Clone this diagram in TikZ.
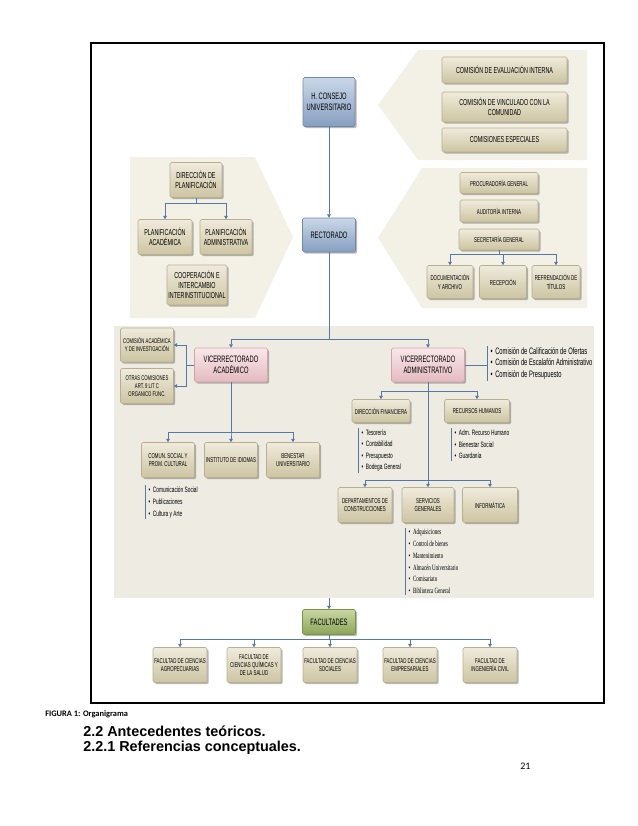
\documentclass[tikz,border=0pt]{standalone}
\usepackage{fontspec}
\usetikzlibrary{arrows.meta,shadows}
\newfontfamily\orgfont[FakeStretch=0.62]{Liberation Sans}
\newfontfamily\orgserif[FakeStretch=0.62]{Liberation Serif}
\newfontfamily\capfont{Carlito}
\newfontfamily\headfont{Liberation Sans}
\definecolor{tanTop}{HTML}{EFEBDC}
\definecolor{tanBot}{HTML}{CCC4A1}
\definecolor{tanLine}{HTML}{B8B08D}
\definecolor{blueTop}{HTML}{CAD7E8}
\definecolor{blueBot}{HTML}{869FC0}
\definecolor{blueLine}{HTML}{6F88AA}
\definecolor{pinkTop}{HTML}{F8E8EA}
\definecolor{pinkBot}{HTML}{E4BAC1}
\definecolor{pinkLine}{HTML}{D3A3AA}
\definecolor{greenTop}{HTML}{C9D7A2}
\definecolor{greenBot}{HTML}{8BA557}
\definecolor{greenLine}{HTML}{78924A}
\definecolor{panelFill}{HTML}{F3F0E6}
\definecolor{patFill}{HTML}{EEEBE3}
\definecolor{linkBlue}{HTML}{5479A5}
\newcommand\orgbul{\textbullet\hspace{2pt}}

\begin{document}
\begin{tikzpicture}[x=0.75pt,y=-0.75pt,
    orgbox/.style={rounded corners=1.2pt,align=center,inner sep=0.5pt,
      drop shadow={shadow xshift=1.3pt,shadow yshift=-1.3pt,opacity=0.4,fill=black!70}},
    boxdim/.style 2 args={minimum width=#1*0.75pt,minimum height=#2*0.75pt},
    tanbox/.style={orgbox,top color=tanTop,bottom color=tanBot,draw=tanLine},
    bluebox/.style={orgbox,top color=blueTop,bottom color=blueBot,draw=blueLine},
    pinkbox/.style={orgbox,top color=pinkTop,bottom color=pinkBot,draw=pinkLine},
    greenbox/.style={orgbox,top color=greenTop,bottom color=greenBot,draw=greenLine},
    fbig/.style={font=\orgfont\fontsize{7}{8.2}\selectfont},
    fmid/.style={font=\orgfont\fontsize{6.5}{7.5}\selectfont},
    fsml/.style={font=\orgfont\fontsize{5.3}{6.2}\selectfont},
    ftiny/.style={font=\orgfont\fontsize{5.1}{6}\selectfont},
    listtxt/.style={anchor=west,align=left,inner xsep=2.5pt,inner ysep=1pt},
    orgline/.style={draw=linkBlue,line width=0.6pt},
    orgarrow/.style={orgline,-{Triangle[width=2.8pt,length=2.6pt]}}]
\useasboundingbox (0,0) rectangle (638,826);
\fill[patFill] (114,326) rectangle (594,598);
\fill[panelFill] (378,105) -- (418,50) -- (587,50) -- (587,160) -- (418,160) -- cycle;
\fill[panelFill] (378,238) -- (422,168) -- (587,168) -- (587,308) -- (422,308) -- cycle;
\fill[panelFill] (130,157) -- (255,157) -- (293,237) -- (255,318) -- (130,318) -- cycle;
\draw[line width=2.2pt] (91,43) rectangle (604,703);

\node[tanbox,fmid,boxdim={125}{26}] (comeval) at (504.5,70) {COMISIÓN DE EVALUACIÓN INTERNA};
\node[tanbox,fmid,boxdim={125}{30}] (comvinc) at (504.5,107) {COMISIÓN DE VINCULADO CON LA\\COMUNIDAD};
\node[tanbox,fmid,boxdim={125}{24}] (comesp) at (504.5,140) {COMISIONES ESPECIALES};

\node[bluebox,fbig,boxdim={52}{49}] (hcu) at (329,102) {H. CONSEJO\\UNIVERSITARIO};
\node[bluebox,fbig,boxdim={53}{34}] (rect) at (329,235) {RECTORADO};

\node[tanbox,fmid,boxdim={52}{35}] (dirplan) at (196,180) {DIRECCIÓN DE\\PLANIFICACIÓN};
\node[tanbox,fmid,boxdim={54}{35}] (planacad) at (165,237) {PLANIFICACIÓN\\ACADÉMICA};
\node[tanbox,fmid,boxdim={52}{35}] (planadm) at (226,237) {PLANIFICACIÓN\\ADMINISTRATIVA};
\node[tanbox,fmid,boxdim={60}{40}] (coop) at (197,285) {COOPERACIÓN E\\INTERCAMBIO\\INTERINSTITUCIONAL};

\node[tanbox,fsml,boxdim={78}{21}] (procur) at (499,183) {PROCURADORÍA GENERAL};
\node[tanbox,fsml,boxdim={78}{22}] (audit) at (499,211) {AUDITORÍA INTERNA};
\node[tanbox,fsml,boxdim={80}{21}] (secgen) at (499,239.5) {SECRETARÍA GENERAL};
\node[tanbox,fsml,boxdim={46}{33}] (docarch) at (450,282) {DOCUMENTACIÓN\\Y ARCHIVO};
\node[tanbox,fsml,boxdim={47}{33}] (recep) at (503,282) {RECEPCIÓN};
\node[tanbox,fsml,boxdim={48}{33}] (refrend) at (556,282) {REFRENDACIÓN DE\\TÍTULOS};

\node[pinkbox,fbig,boxdim={73}{34}] (viceac) at (231,365) {VICERRECTORADO\\ACADÉMICO};
\node[pinkbox,fbig,boxdim={73}{34}] (viceadm) at (428,365) {VICERRECTORADO\\ADMINISTRATIVO};
\node[tanbox,ftiny,boxdim={53}{34}] (comacad) at (147,345) {COMISIÓN ACADÉMICA\\Y DE INVESTIGACIÓN};
\node[tanbox,ftiny,boxdim={53}{35}] (otrascom) at (147,386) {OTRAS COMISIONES\\ART. 9 LIT C\\ORGANICO FUNC.};

\node[tanbox,fsml,boxdim={58}{23}] (dirfin) at (381,411) {DIRECCIÓN FINANCIERA};
\node[tanbox,fsml,boxdim={65}{23}] (rrhh) at (477,411) {RECURSOS HUMANOS};
\node[tanbox,fsml,boxdim={53}{35}] (comun) at (168,460) {COMUN. SOCIAL Y\\PROM. CULTURAL};
\node[tanbox,fsml,boxdim={53}{35}] (idiomas) at (231,460) {INSTITUTO DE IDIOMAS};
\node[tanbox,fsml,boxdim={53}{35}] (bienestar) at (293,460) {BENESTAR\\UNIVERSITARIO};
\node[tanbox,fsml,boxdim={54}{35}] (deptcons) at (365,505) {DEPARTAMENTOS DE\\CONSTRUCCIONES};
\node[tanbox,fsml,boxdim={52}{35}] (servgen) at (428,505) {SERVICIOS\\GENERALES};
\node[tanbox,fsml,boxdim={55}{35}] (informat) at (490,505) {INFORMÁTICA};

\node[greenbox,fbig,boxdim={53}{25}] (facult) at (329,622) {FACULTADES};
\node[tanbox,fsml,boxdim={54}{35}] (fagro) at (180,665) {FACULTAD DE CIENCIAS\\AGROPECUARIAS};
\node[tanbox,fsml,boxdim={54}{35}] (fquim) at (254,665) {FACULTAD DE\\CIENCIAS QUÍMICAS Y\\DE LA SALUD};
\node[tanbox,fsml,boxdim={54}{35}] (fsoc) at (330,665) {FACULTAD DE CIENCIAS\\SOCIALES};
\node[tanbox,fsml,boxdim={54}{35}] (femp) at (410,665) {FACULTAD DE CIENCIAS\\EMPRESARIALES};
\node[tanbox,fsml,boxdim={54}{35}] (fing) at (490,665) {FACULTAD DE\\INGENIERÍA CIVIL};

\node[listtxt,font=\orgfont\fontsize{7}{8.6}\selectfont] (lstcom) at (487,363.5)
  {\orgbul Comisión de Calificación de Ofertas\\\orgbul Comisión de Escalafón Administrativo\\\orgbul Comisión de Presupuesto};
\node[listtxt,font=\orgfont\fontsize{5.8}{8.7}\selectfont] (lstfin) at (358,450.5)
  {\orgbul Tesorería\\\orgbul Contabilidad\\\orgbul Presupuesto\\\orgbul Bodega General};
\node[listtxt,font=\orgfont\fontsize{5.8}{8.7}\selectfont] (lstrh) at (451,444.5)
  {\orgbul Adm. Recurso Humano\\\orgbul Bienestar Social\\\orgbul Guardanía};
\node[listtxt,font=\orgfont\fontsize{5.8}{9}\selectfont] (lstcs) at (145,502)
  {\orgbul Comunicación Social\\\orgbul Publicaciones\\\orgbul Cultura y Arte};
\node[listtxt,font=\orgserif\fontsize{6}{8.85}\selectfont] (lstsg) at (405,561.5)
  {\orgbul Adquisiciones\\\orgbul Control de bienes\\\orgbul Mantenimiento\\\orgbul Almacén Universitario\\\orgbul Comisariato\\\orgbul Biblioteca General};
\foreach \l in {lstcom,lstfin,lstrh,lstcs,lstsg}
  \draw[orgline] (\l.north west) -- (\l.south west);

\draw[orgarrow] (hcu) -- (rect);
\foreach \t in {planacad,planadm}
  \draw[orgarrow] (dirplan.south) -- ++(0,6) -| (\t.north);
\foreach \t in {docarch,recep,refrend}
  \draw[orgarrow] (secgen.south) -- ++(0,4) -| (\t.north);
\foreach \t in {viceac,viceadm}
  \draw[orgarrow] (rect.south) -- ++(0,87) -| (\t.north);
\foreach \t in {comacad,otrascom}
  \draw[orgarrow] (viceac.west) -- ++(-8,0) |- (\t.east);
\foreach \t in {comun,idiomas,bienestar}
  \draw[orgarrow] (viceac.south) -- ++(0,50) -| (\t.north);
\foreach \t in {dirfin,rrhh}
  \draw[orgarrow] (viceadm.south) -- ++(0,9) -| (\t.north);
\foreach \t in {deptcons,servgen,informat}
  \draw[orgarrow] (viceadm.south) -- ++(0,98) -| (\t.north);
\draw[orgline] (viceadm.east) -- (viceadm.east -| lstcom.west);
\coordinate (patbot) at (329,598);
\draw[orgarrow] (patbot) -- (facult);
\foreach \t in {fagro,fquim,fsoc,femp,fing}
  \draw[orgarrow] (facult.south) -- ++(0,4.5) -| (\t.north);

\node[anchor=west,inner sep=0pt,font=\capfont\bfseries\fontsize{6.3}{7}\selectfont] (figcap) at (45,714) {FIGURA 1: Organigrama};
\node[anchor=west,inner sep=0pt,font=\headfont\bfseries\fontsize{10.8}{12}\selectfont] (sec22) at (83,731) {2.2 Antecedentes teóricos.};
\node[anchor=west,inner sep=0pt,font=\headfont\bfseries\fontsize{10.8}{12}\selectfont] (sec221) at (83,748) {2.2.1 Referencias conceptuales.};
\node[anchor=west,inner sep=0pt,font=\capfont\fontsize{7.5}{8}\selectfont] (pagenum) at (520,766) {21};
\end{tikzpicture}
\end{document}
